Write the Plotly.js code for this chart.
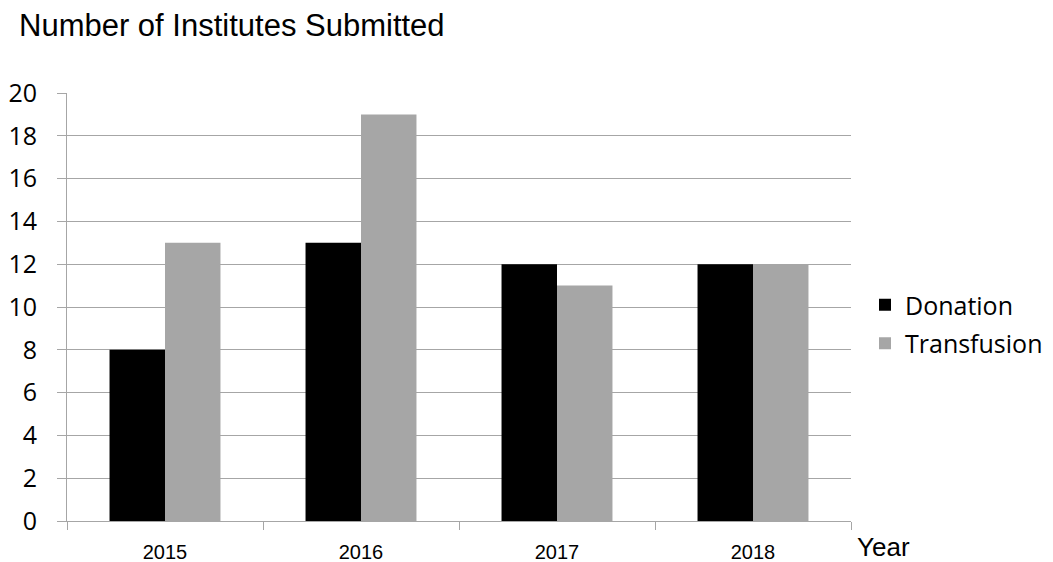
<!DOCTYPE html>
<html>
<head>
<meta charset="utf-8">
<script src="https://cdn.plot.ly/plotly-3.0.1.min.js"></script>
<style>
  html, body { margin: 0; padding: 0; background: #ffffff; }
  #chart { width: 1053px; height: 562px; }
</style>
</head>
<body>
<div id="chart"></div>
<script>
// Institutes submitting data, per year
const years = ['2015', '2016', '2017', '2018'];
const donation = [8, 13, 12, 12];
const transfusion = [13, 19, 11, 12];
const yTicks = [0, 2, 4, 6, 8, 10, 12, 14, 16, 18, 20];

const gridGrey = '#a6a6a6';

const traces = [
  {
    type: 'bar', name: 'Donation', x: years, y: donation,
    legendgroup: 'don',
    marker: { color: '#000000' }, hoverinfo: 'x+y+name'
  },
  {
    type: 'bar', name: 'Transfusion', x: years, y: transfusion,
    legendgroup: 'tra',
    marker: { color: '#a6a6a6' }, hoverinfo: 'x+y+name'
  }
];

const layout = {
  width: 1053, height: 562,
  margin: { l: 67, r: 202, t: 93, b: 41, pad: 0 },
  paper_bgcolor: '#ffffff', plot_bgcolor: '#ffffff',
  barmode: 'group', bargap: 0.434, bargroupgap: 0,
  showlegend: true,
  title: {
    text: 'Number of Institutes Submitted',
    font: { family: 'Liberation Sans, Arial, sans-serif', size: 31, color: '#000000' },
    xref: 'container', yref: 'container',
    x: 19 / 1053, xanchor: 'left',
    y: 1 - 25 / 562, yanchor: 'middle'
  },
  xaxis: {
    type: 'category',
    tickson: 'boundaries',
    ticks: 'outside', ticklen: 8, tickcolor: gridGrey, tickwidth: 1,
    showline: true, linecolor: gridGrey, linewidth: 1,
    showgrid: false, zeroline: false,
    ticklabelstandoff: 13,
    tickfont: { family: 'Liberation Sans, Arial, sans-serif', size: 20, color: '#000000' }
  },
  yaxis: {
    range: [0, 20],
    tickvals: yTicks,
    ticktext: yTicks.map(String),
    ticks: 'outside', ticklen: 9, tickcolor: gridGrey, tickwidth: 1,
    showline: true, linecolor: gridGrey, linewidth: 1,
    showgrid: true, gridcolor: gridGrey, gridwidth: 1,
    zeroline: false,
    ticklabelstandoff: 15,
    tickfont: { family: 'Open Sans, Noto Sans, sans-serif', size: 25, color: '#000000' }
  },
  legend: {
    xref: 'container', yref: 'container',
    x: 865 / 1053, xanchor: 'left',
    y: 1 - 324 / 562, yanchor: 'middle',
    font: { family: 'Open Sans, Noto Sans, sans-serif', size: 25, color: '#000000' },
    bgcolor: 'rgba(0,0,0,0)',
    tracegroupgap: 3,
    itemwidth: 30
  },
  annotations: [
    {
      text: 'Year', showarrow: false,
      xref: 'paper', yref: 'paper',
      x: 1, y: 0, xanchor: 'left', yanchor: 'middle',
      xshift: 4, yshift: -26,
      font: { family: 'Liberation Sans, Arial, sans-serif', size: 26, color: '#000000' }
    }
  ]
};

Plotly.newPlot('chart', traces, layout, { displayModeBar: false, staticPlot: true });
</script>
</body>
</html>
